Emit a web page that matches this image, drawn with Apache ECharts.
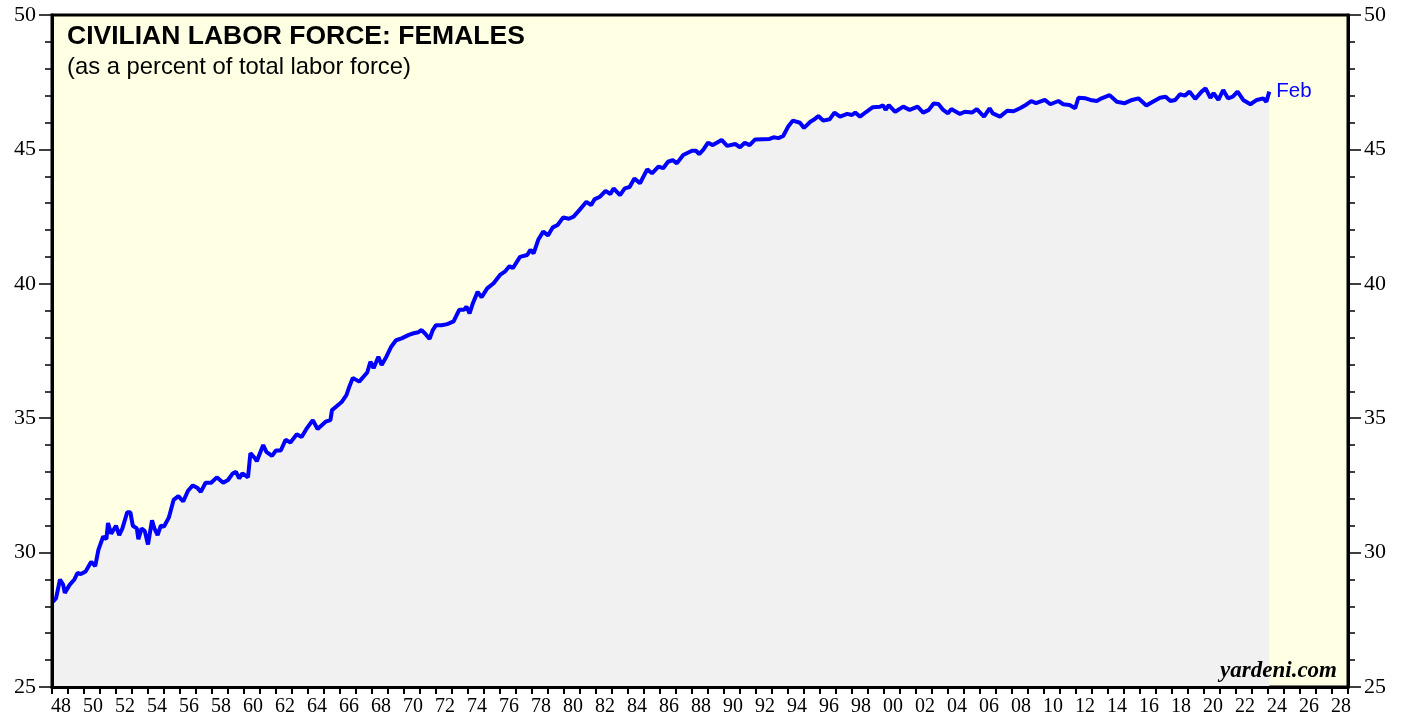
<!DOCTYPE html>
<html>
<head>
<meta charset="utf-8">
<script src="https://cdn.jsdelivr.net/npm/echarts@6/dist/echarts.min.js"></script>
<style>
  html, body { margin: 0; padding: 0; background: #fff; }
  #main { width: 1408px; height: 719px; }
</style>
</head>
<body>
<div id="main"></div>
<script>
// decimal year of each reading
var years = [
  1948.06, 1948.25, 1948.5, 1948.7, 1948.8, 1949.1, 1949.4, 1949.6, 1949.8, 1950.1,
  1950.45, 1950.7, 1950.9, 1951.2, 1951.4, 1951.5, 1951.7, 1952.0, 1952.2, 1952.4,
  1952.7, 1952.9, 1953.05, 1953.3, 1953.4, 1953.6, 1953.8, 1954.0, 1954.25, 1954.4,
  1954.6, 1954.8, 1955.0, 1955.3, 1955.6, 1955.9, 1956.2, 1956.5, 1956.8, 1957.1,
  1957.3, 1957.6, 1957.95, 1958.3, 1958.7, 1959.0, 1959.3, 1959.5, 1959.7, 1959.9,
  1960.25, 1960.4, 1960.7, 1960.8, 1961.2, 1961.4, 1961.75, 1962.0, 1962.3, 1962.6,
  1962.9, 1963.3, 1963.6, 1963.9, 1964.3, 1964.6, 1965.1, 1965.4, 1965.5, 1965.9,
  1966.1, 1966.4, 1966.6, 1966.8, 1967.2, 1967.7, 1967.9, 1968.1, 1968.4, 1968.6,
  1968.9, 1969.2, 1969.5, 1969.85, 1970.3, 1970.6, 1970.9, 1971.1, 1971.3, 1971.6,
  1971.8, 1972.0, 1972.35, 1972.7, 1973.1, 1973.45, 1973.75, 1973.9, 1974.1, 1974.3,
  1974.6, 1974.85, 1975.2, 1975.6, 1976.0, 1976.3, 1976.6, 1976.8, 1977.25, 1977.7,
  1977.9, 1978.1, 1978.4, 1978.7, 1979.0, 1979.3, 1979.6, 1979.95, 1980.3, 1980.6,
  1981.0, 1981.4, 1981.7, 1981.9, 1982.25, 1982.6, 1982.9, 1983.1, 1983.5, 1983.8,
  1984.1, 1984.4, 1984.75, 1985.2, 1985.5, 1985.9, 1986.2, 1986.5, 1986.8, 1987.05,
  1987.45, 1988.0, 1988.25, 1988.45, 1988.7, 1989.0, 1989.3, 1989.85, 1990.2, 1990.7,
  1991.0, 1991.3, 1991.6, 1991.95, 1992.4, 1992.85, 1993.1, 1993.4, 1993.7, 1994.0,
  1994.3, 1994.75, 1995.0, 1995.4, 1995.6, 1995.9, 1996.2, 1996.6, 1996.9, 1997.25,
  1997.7, 1998.0, 1998.2, 1998.5, 1998.9, 1999.3, 1999.75, 1999.95, 2000.1, 2000.3,
  2000.7, 2001.2, 2001.6, 2002.1, 2002.45, 2002.8, 2003.1, 2003.4, 2003.7, 2004.0,
  2004.2, 2004.75, 2005.05, 2005.5, 2005.8, 2006.25, 2006.6, 2006.8, 2007.25, 2007.7,
  2008.1, 2008.5, 2008.8, 2009.2, 2009.5, 2010.05, 2010.4, 2010.9, 2011.2, 2011.6,
  2011.95, 2012.15, 2012.6, 2012.9, 2013.3, 2013.6, 2014.1, 2014.55, 2015.05, 2015.5,
  2015.9, 2016.4, 2016.8, 2017.25, 2017.6, 2017.9, 2018.2, 2018.5, 2018.8, 2019.1,
  2019.45, 2019.85, 2020.1, 2020.4, 2020.6, 2020.9, 2021.2, 2021.5, 2021.8, 2022.1,
  2022.45, 2022.9, 2023.3, 2023.7, 2023.9, 2024.08
];

// women as % of civilian labor force
var femaleShare = [
  28.17, 28.3, 29.0, 28.8, 28.5, 28.8, 29.0, 29.25, 29.2, 29.3,
  29.66, 29.5, 30.1, 30.6, 30.5, 31.1, 30.7, 31.0, 30.65, 30.9,
  31.5, 31.5, 31.0, 30.9, 30.5, 30.9, 30.8, 30.3, 31.2, 30.9,
  30.65, 31.0, 30.97, 31.3, 31.96, 32.1, 31.9, 32.3, 32.5, 32.4,
  32.26, 32.6, 32.6, 32.8, 32.6, 32.7, 32.95, 33.0, 32.76, 32.95,
  32.8, 33.7, 33.5, 33.4, 34.0, 33.75, 33.6, 33.8, 33.8, 34.2,
  34.1, 34.4, 34.3, 34.6, 34.93, 34.6, 34.87, 34.93, 35.3, 35.5,
  35.6, 35.86, 36.2, 36.5, 36.36, 36.7, 37.1, 36.86, 37.29, 36.98,
  37.29, 37.66, 37.9, 37.97, 38.1, 38.16, 38.2, 38.28, 38.16, 37.95,
  38.28, 38.46, 38.46, 38.5, 38.6, 39.03, 39.03, 39.15, 38.9, 39.27,
  39.7, 39.5, 39.83, 40.02, 40.33, 40.45, 40.66, 40.58, 41.0, 41.07,
  41.26, 41.13, 41.65, 41.94, 41.8, 42.1, 42.19, 42.47, 42.42, 42.5,
  42.77, 43.05, 42.93, 43.14, 43.24, 43.46, 43.34, 43.55, 43.3, 43.55,
  43.6, 43.92, 43.74, 44.26, 44.11, 44.36, 44.3, 44.54, 44.6, 44.48,
  44.79, 44.95, 44.95, 44.83, 44.98, 45.25, 45.16, 45.35, 45.13, 45.2,
  45.08, 45.25, 45.16, 45.37, 45.38, 45.39, 45.45, 45.42, 45.5, 45.84,
  46.07, 45.99, 45.8, 46.03, 46.1, 46.24, 46.07, 46.12, 46.37, 46.22,
  46.32, 46.28, 46.37, 46.22, 46.4, 46.57, 46.59, 46.64, 46.47, 46.65,
  46.4, 46.59, 46.47, 46.59, 46.37, 46.47, 46.71, 46.69, 46.47, 46.34,
  46.5, 46.32, 46.4, 46.37, 46.5, 46.22, 46.53, 46.34, 46.22, 46.44,
  46.42, 46.53, 46.63, 46.8, 46.72, 46.84, 46.68, 46.8, 46.68, 46.65,
  46.53, 46.92, 46.9, 46.84, 46.8, 46.9, 47.02, 46.77, 46.72, 46.84,
  46.9, 46.63, 46.77, 46.92, 46.96, 46.8, 46.84, 47.05, 47.0, 47.15,
  46.88, 47.15, 47.27, 46.92, 47.09, 46.84, 47.21, 46.9, 46.96, 47.15,
  46.84, 46.68, 46.84, 46.9, 46.77, 47.15
];

var chart = echarts.init(document.getElementById('main'));

var seriesData = years.map(function (y, i) { return [y, femaleShare[i]]; });

function yAxisCfg(pos) {
  return {
    type: 'value',
    position: pos,
    min: 25,
    max: 50,
    interval: 5,
    z: 5,
    axisLine: { show: true, lineStyle: { color: '#000', width: 3 } },
    axisTick: { show: true, length: 13, lineStyle: { color: '#000', width: 1.5 } },
    minorTick: { show: true, splitNumber: 5, length: 7, lineStyle: { color: '#000', width: 1.5 } },
    axisLabel: { color: '#000', fontFamily: 'Liberation Serif', fontSize: 22, margin: 16 },
    splitLine: { show: false }
  };
}

var option = {
  animation: false,
  backgroundColor: '#fff',
  title: [
    {
      text: 'CIVILIAN LABOR FORCE: FEMALES',
      left: 62, top: 18,
      textStyle: { fontFamily: 'Liberation Sans', fontWeight: 'bold', fontSize: 26.5, color: '#000' }
    },
    {
      text: '(as a percent of total labor force)',
      left: 62, top: 50,
      textStyle: { fontFamily: 'Liberation Sans', fontWeight: 'normal', fontSize: 23.8, color: '#000' }
    }
  ],
  grid: {
    left: 52, top: 15, width: 1296, height: 672,
    show: true,
    backgroundColor: '#ffffe3',
    borderColor: '#000',
    borderWidth: 3
  },
  xAxis: {
    type: 'value',
    min: 1948,
    max: 2029,
    interval: 1,
    z: 5,
    axisLine: { show: true, onZero: false, lineStyle: { color: '#000', width: 3 } },
    axisTick: { show: true, length: 7, lineStyle: { color: '#000', width: 2 } },
    axisLabel: {
      margin: 10,
      formatter: function (v) {
        if (v % 2 !== 0) return '';
        var s = String(v % 100);
        if (s.length < 2) s = '0' + s;
        return '{y|' + s + '}';
      },
      rich: {
        y: { fontFamily: 'Liberation Serif', fontSize: 20, color: '#000', padding: [0, 0, 0, 18] }
      }
    },
    splitLine: { show: false }
  },
  yAxis: [yAxisCfg('left'), yAxisCfg('right')],
  series: [
    {
      type: 'line',
      data: seriesData,
      showSymbol: false,
      z: 3,
      lineStyle: { color: '#0000ff', width: 4 },
      areaStyle: { color: '#f1f1f1', opacity: 1, origin: 'start' },
      endLabel: {
        show: true,
        formatter: 'Feb',
        color: '#0000ff',
        fontFamily: 'Liberation Sans',
        fontSize: 20.5,
        distance: 7
      }
    }
  ],
  graphic: [
    {
      type: 'text',
      right: 71,
      top: 660,
      z: 100,
      style: {
        text: 'yardeni.com',
        font: 'italic bold 23px "Liberation Serif"',
        fill: '#000'
      }
    }
  ]
};

chart.setOption(option);
</script>
</body>
</html>
